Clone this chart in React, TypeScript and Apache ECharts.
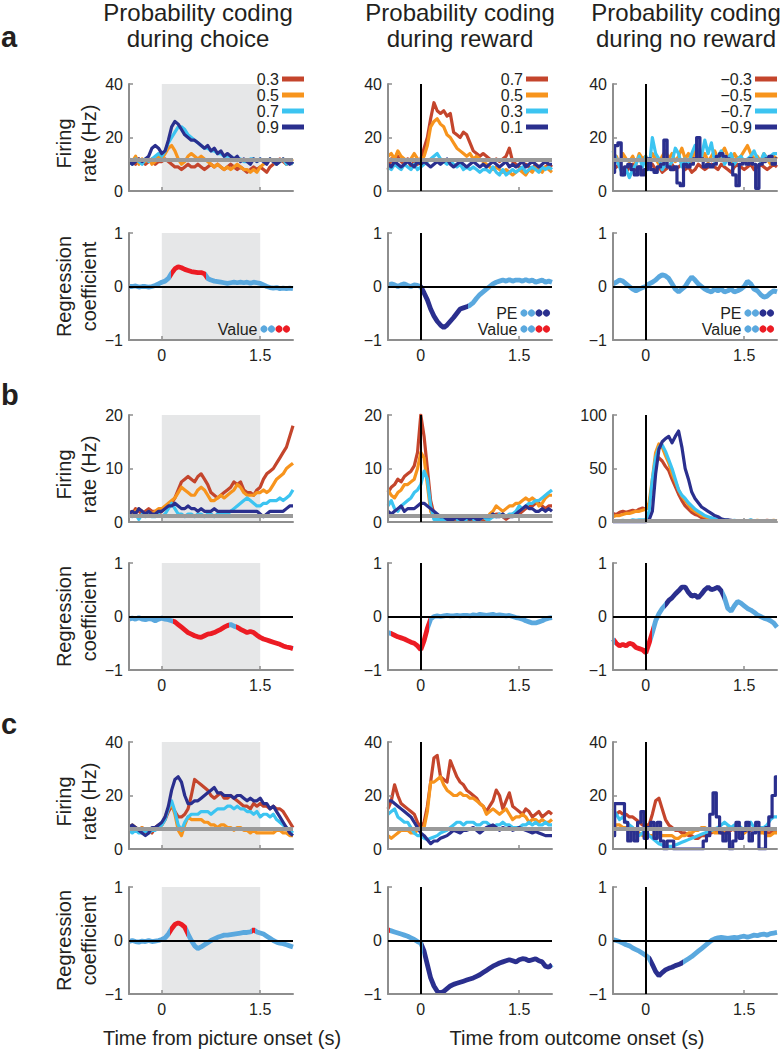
import React, { useEffect, useRef } from "react";
import * as echarts from "echarts";

// ---------- time axis (s) ----------
const T = [-0.5,-0.45,-0.4,-0.35,-0.3,-0.25,-0.2,-0.15,-0.1,-0.05,0,0.05,0.1,0.15,0.2,0.25,0.3,0.35,0.4,0.45,0.5,0.55,0.6,0.65,0.7,0.75,0.8,0.85,0.9,0.95,1,1.05,1.1,1.15,1.2,1.25,1.3,1.35,1.4,1.45,1.5,1.55,1.6,1.65,1.7,1.75,1.8,1.85,1.9,1.95,2];

// ---------- titles / tick labels ----------
const COL_TITLES = ["Probability coding\nduring choice", "Probability coding\nduring reward", "Probability coding\nduring no reward"];
const ROW_LETTERS = ["a", "b", "c"];
const X_TICKS = [0, 1.5];
const LEG_A = [["0.3", "0.5", "0.7", "0.9"], ["0.7", "0.5", "0.3", "0.1"], ["\u22120.3", "\u22120.5", "\u22120.7", "\u22120.9"]];

// ---------- row a firing rates (Hz) ----------
const A1_red = [12,11,10,12,11,10,11,12,10,11,11,12,11,10,9,9,8,9,10,9,9,10,9,8,9,10,9,10,9,8,9,10,9,8,9,8,7,8,9,8,9,8,7,9,10,11,12,11,10,11,10];
const A1_orange = [12,11,13,10,12,11,12,10,11,13,12,14,16,17,15,12,10,11,13,14,13,12,13,12,11,10,9,10,9,8,9,8,9,10,9,8,8,7,8,7,9,10,11,12,11,10,11,12,10,11,12];
const A1_cyan = [11,10,12,11,10,12,11,12,13,14,13,15,18,20,22,24,24,23,21,20,19,18,17,16,16,15,15,14,14,13,13,13,12,12,12,11,11,12,12,11,12,11,11,12,11,10,11,12,10,11,10];
const A1_navy = [11,10,11,12,11,12,13,16,17,16,14,15,19,24,26,25,23,21,20,19,19,18,17,16,17,15,16,14,15,13,14,13,12,13,11,12,11,10,12,11,12,11,10,12,11,10,11,12,11,10,11];

const A2_red = [8,12,10,13,11,10,12,9,11,10,12,16,20,27,33,30,29,30,28,29,22,21,20,22,21,18,15,14,13,14,13,12,11,12,11,12,13,16,11,10,9,8,10,9,8,10,9,8,9,10,9];
const A2_orange = [13,14,12,15,13,12,11,12,14,12,11,13,17,24,26,27,25,24,21,20,18,16,15,14,13,14,12,13,12,11,10,9,8,9,8,7,8,7,6,7,8,7,6,8,7,9,8,7,9,8,7];
const A2_cyan = [9,8,10,9,8,10,9,8,10,8,9,10,11,12,13,14,12,11,10,11,10,9,10,8,9,8,9,8,7,8,8,7,9,7,6,8,6,7,8,7,8,9,7,8,9,8,7,9,8,9,8];
const A2_navy = [10,9,11,10,9,10,11,10,9,11,10,11,10,9,10,11,10,11,12,10,9,10,11,10,9,10,11,10,9,10,9,10,11,10,9,10,11,9,10,9,10,11,9,10,11,10,9,10,11,10,10];

const A3_red = [8,9,10,8,7,9,10,8,9,7,8,9,10,8,9,7,8,9,10,8,9,10,8,9,7,8,10,9,8,9,10,9,8,10,9,8,7,9,10,9,8,9,10,8,9,10,9,8,9,10,9];
const A3_orange = [12,13,10,14,12,11,13,10,14,12,13,11,14,12,10,13,15,12,14,11,13,16,12,14,11,15,13,12,14,11,13,15,12,14,16,13,11,14,12,13,15,17,14,12,13,11,14,12,10,13,12];
const A3_cyan = [15,12,9,6,8,5,8,10,13,9,13,8,20,14,12,8,10,9,11,16,14,9,12,10,14,17,15,13,19,14,18,11,13,15,10,12,14,10,12,13,11,12,13,15,12,11,14,12,13,14,14];
const A3_navy = [7,17,18,6,9,10,8,6,9,6,8,12,8,7,9,10,19,9,8,9,3,2,10,9,10,12,20,12,9,10,9,10,13,14,13,12,10,6,2,10,11,10,12,10,1,10,11,12,13,10,12];

// ---------- row b firing rates (Hz) ----------
const B1_red = [2,1.5,2.5,2,1.5,2,2.5,2,2,1.5,2,2.5,3,3.5,4.5,6,7.5,8,8.5,8,7.5,8.5,9,8,7,5.5,5,4.5,5,5.5,6,6.5,7.5,7,7.5,6,5.5,5.5,5,6,6.5,8,9,9.5,10,11,12,13,14,16,18];
const B1_orange = [2,1.5,2,2.5,2,1.5,2,1.5,2,2.5,2.5,3,3.5,4,4.5,5.5,6.5,6,5.5,5,5,6,6.5,6,5,4,4,4.5,5,4.5,5,5.5,6,7,6.5,5.5,5,5,5,5.5,5.5,6,5.5,6,7,8,8.5,9,10,10.5,11];
const B1_cyan = [1.5,1,1.5,0.5,1.5,1,1.5,1,1,1.5,1,1.5,2.5,3.5,2.5,1.5,1.5,1,1.5,1.5,1,1.5,1.5,1,1.5,1.5,1,1.5,1.5,1.5,1.5,2,2.5,3,3.5,4,4.5,4,3.5,3,3,3.5,3.5,4,4,4,4.5,4,4.5,5,6];
const B1_navy = [1.5,2,1.5,2.5,2,1.5,2,1.5,1.5,2,2,2.5,3,3,3.5,3,2.5,2.5,3,2.5,2.5,2,2.5,2,2,2,2.5,2,2,2,2,2,2,2,2,2,2,2,2,2,1.5,1,1.5,2,2,2,2,2,2.5,3,3];

const B2_red = [5.5,6.5,7,8,7.5,8.5,9,9.5,10.5,13,20,16,10,4,1.5,1,0.5,0.5,1,0.5,0.5,0.5,1,0.5,0.5,0.5,0.5,1,0.5,0.5,0.5,1,1,1.5,1.5,1,0.5,1,1.5,1.5,1.5,2,2.5,3,3,3.5,3.5,3,2.5,3,3];
const B2_orange = [6,5,4.5,5.5,6,7,7,7.5,8,10,13,12,7,2,1,0.5,0.5,1,0.5,1,0.5,1,0.5,1,1,0.5,1,1,0.5,1,0.5,1.5,2,3,2.5,2,2.5,3,3,3.5,3.5,4,4.5,4,4.5,4,3,3.5,4.5,5,5];
const B2_cyan = [3,4,2.5,2,3,3.5,4,4.5,5.5,6,7,9.5,8,3,0.5,0.5,0.5,0.5,0.5,0.5,1,0.5,0.5,0.5,0.5,1,0.5,0.5,0.5,1,0.5,0.5,1,1,1.5,1,1,1.5,1.5,2,3,2.5,3,3.5,3.5,4,4,4.5,5,5.5,6];
const B2_navy = [2,1.5,2,2.5,3,2,2.5,2.5,2.5,3,3.5,3.5,3,2.5,2,1.5,1,1,0.5,0.5,0.5,1,0.5,0.5,1,0.5,1,0.5,0.5,1,1,1,1.5,1,1,1.5,1,1,1,1.5,2,2.5,3,2.5,2.5,2,2,2.5,2,2.5,2];

const B3_red = [8,7,9,10,9,10,11,10,12,13,12,15,35,55,60,57,52,48,40,33,26,20,15,12,9,7,6,4,3,2,1.5,1,1,1,1.5,1,1,1,1,1,1,1,1.5,1,1,1,1,1.5,1,1,1];
const B3_orange = [5,6,6,7,8,8,9,10,10,11,12,18,40,65,73,70,62,55,45,38,30,24,20,16,12,10,8,6,5,4,3,2,1.5,1,1,1.5,1,1,1,1,1,1,1,1,1.5,1,1,1,1,1.5,1];
const B3_cyan = [1,1,1,1.5,1,1,2,1.5,2,2,2,10,40,60,70,72,66,58,50,40,30,25,22,18,15,12,10,8,6,5,4,3,2,2,2,1.5,1,1.5,1,1,1,1,2,1,1,1,1,1,1,1,1];
const B3_navy = [0,0,0,0,0,0,0,0,0,0,0,2,10,45,68,75,78,80,74,80,85,70,50,40,28,22,18,14,12,10,8,6,5,3,2,2,1.5,1,1,1,1,1,1,0.5,1,0.5,1,0.5,1,1,1];

// ---------- row c firing rates (Hz) ----------
const C1_red = [8,7,8,7,8,6,7,6,8,9,9,11,14,16,14,12,12,13,15,20,26,25,24,23,22,20,19,20,21,19,19,20,19,18,17,16,16,15,17,16,17,16,16,15,16,15,15,14,12,10,8];
const C1_orange = [8,9,8,7,8,6,7,7,8,8,9,12,15,17,13,7,5,9,12,11,11,11,11,10,10,9,9,8,9,9,8,8,7,8,8,7,7,6,7,6,6,6,6,6,6,7,7,6,6,5,5];
const C1_cyan = [7,6,7,6,6,7,6,7,7,8,9,11,15,18,14,9,7,10,12,13,13,13,14,14,14,13,14,15,15,15,16,16,15,16,15,15,14,14,13,14,12,13,13,12,13,11,10,9,8,7,6];
const C1_navy = [8,9,8,7,6,5,6,8,8,9,10,12,16,22,26,27,25,20,17,17,18,18,19,20,21,22,23,21,21,20,20,20,19,20,20,19,18,19,18,18,19,17,17,15,16,14,12,10,8,6,5];

const C2_red = [15,18,24,20,17,16,15,14,13,10,8,10,16,25,34,35,27,26,25,33,30,27,25,24,22,21,20,19,17,16,14,16,18,22,20,15,18,21,16,15,14,13,15,14,12,13,14,12,13,14,13];
const C2_orange = [5,4,5,6,7,7,7,6,6,7,8,8,14,25,25,26,27,24,22,21,20,20,21,20,20,19,19,18,17,16,13,14,15,14,13,14,15,13,11,12,12,13,12,10,11,11,10,11,10,10,11];
const C2_cyan = [13,14,15,12,11,10,10,8,6,5,5,4,3.5,4,4.5,5,6,6.5,7,8,9,10,10,9,10,10,10,9,9,10,10,9,8,9,9,10,9,9,8,8,8,9,9,10,9,10,9,9,10,9,9];
const C2_navy = [18,18,17,16,15,14,13,12,10,8,6,5,3.5,2,3,3,4,4.5,5,6,7,6.5,6,7,7,7.5,8,7,6,7,8,8.5,9,8,7,8,7.5,8,7,7.5,8,7.5,7,6.5,6,6.5,6,5.5,5,5,5];

const C3_red = [12,13,14,13,13,12,12,11,10,9,9,9,13,18,19,15,11,9,8,7,7,6,6,5,5,4,4,5,5,6,6,7,7,6,6,7,7,8,8,7,6,7,7,8,8,7,7,6,6,7,7];
const C3_orange = [8,9,9,8,8,7,7,6,6,5,5,5,5,6,6,5,5,5,5,4,4,5,5,6,6,7,7,8,8,7,7,6,6,7,7,8,8,7,7,6,6,7,7,8,8,6,6,5,5,6,6];
const C3_cyan = [15,13,11,12,10,9,8,6,5,6,7,5,4,3,2,1.5,1,1,1,1.5,2,2.5,3,3.5,4,4.5,5,5.5,6,6.5,7,7.5,8,9,10,9,8,9,9,8,7,9,10,8,7,8,8,9,11,12,12];
const C3_navy = [5,17,17,17,10,3,7,3,10,14,4,8,10,4,10,3,0,3,3,0,0,0,0,0,0,0,0,0,3,5,13,21,12,6,3,6,0,3,10,4,7,10,3,6,10,0,0,8,12,20,27];

// ---------- baselines (Hz) and axis maxima ----------
const BASE = [[11.5, 11.5, 11.5], [1.2, 1.2, 1], [7.5, 7.5, 7.5]];
const Y_MAX = [[40, 40, 40], [20, 20, 100], [40, 40, 40]];

// ---------- regression coefficients ----------
const A1_reg = [0,0,0.01,-0.01,0,0,-0.01,0,0.02,0.05,0.08,0.1,0.15,0.25,0.33,0.37,0.35,0.32,0.3,0.28,0.27,0.26,0.26,0.24,0.15,0.12,0.1,0.09,0.08,0.07,0.06,0.07,0.08,0.07,0.08,0.07,0.08,0.06,0.08,0.07,0.06,0.03,0,-0.02,-0.03,-0.02,-0.04,-0.03,-0.04,-0.03,-0.04];
const A2_reg = [0.02,0.05,0.03,0,0.03,0.05,0.02,0,0.03,0.02,0,-0.12,-0.25,-0.42,-0.55,-0.65,-0.72,-0.77,-0.72,-0.65,-0.58,-0.5,-0.42,-0.4,-0.38,-0.35,-0.3,-0.22,-0.15,-0.1,-0.05,0,0.05,0.08,0.1,0.12,0.1,0.13,0.1,0.12,0.12,0.1,0.13,0.1,0.12,0.08,0.1,0.12,0.08,0.1,0.08];
const A3_reg = [0.05,0.08,0.12,0.1,0.05,0,-0.05,-0.08,-0.05,-0.02,0,0.05,0.08,0.12,0.18,0.22,0.2,0.15,0.05,-0.05,-0.1,-0.05,0,0.1,0.18,0.12,0.05,0,-0.05,-0.08,-0.1,-0.05,-0.08,-0.05,-0.1,-0.08,-0.05,-0.1,-0.08,-0.05,0,0.1,0.05,-0.05,-0.08,-0.15,-0.2,-0.18,-0.12,-0.08,-0.1];
const B1_reg = [-0.05,-0.03,-0.05,-0.02,-0.05,-0.06,-0.04,-0.05,-0.08,-0.05,-0.03,-0.05,-0.06,-0.08,-0.1,-0.15,-0.2,-0.25,-0.3,-0.33,-0.36,-0.38,-0.39,-0.36,-0.33,-0.32,-0.3,-0.27,-0.24,-0.2,-0.17,-0.15,-0.18,-0.2,-0.24,-0.27,-0.3,-0.28,-0.3,-0.35,-0.39,-0.42,-0.44,-0.46,-0.48,-0.5,-0.52,-0.55,-0.57,-0.58,-0.6];
const B2_reg = [-0.3,-0.32,-0.35,-0.38,-0.4,-0.42,-0.45,-0.48,-0.5,-0.55,-0.62,-0.45,-0.22,-0.05,0,0.01,0,0.01,0.02,0.01,0.01,0.02,0.01,0.02,0.02,0.01,0.03,0.02,0.04,0.03,0.02,0.03,0.04,0.02,0.03,0.02,0.01,0.02,0,-0.02,-0.03,-0.05,-0.08,-0.1,-0.12,-0.12,-0.1,-0.08,-0.05,-0.03,-0.02];
const B3_reg = [-0.42,-0.5,-0.55,-0.52,-0.55,-0.5,-0.52,-0.58,-0.6,-0.62,-0.68,-0.5,-0.3,-0.08,0.05,0.15,0.22,0.3,0.35,0.42,0.48,0.55,0.55,0.45,0.38,0.4,0.35,0.42,0.5,0.55,0.5,0.52,0.55,0.48,0.35,0.15,0.1,0.2,0.28,0.25,0.2,0.15,0.12,0.08,0.03,0,-0.03,-0.05,-0.08,-0.12,-0.2];
const C1_reg = [-0.02,0,-0.02,-0.03,-0.01,-0.02,0,-0.02,-0.01,0,0.02,0.05,0.12,0.22,0.3,0.33,0.3,0.25,0.12,0,-0.1,-0.15,-0.12,-0.08,-0.04,0,0.03,0.06,0.08,0.1,0.1,0.11,0.12,0.13,0.14,0.15,0.15,0.16,0.2,0.16,0.14,0.12,0.08,0.04,0,-0.03,-0.05,-0.06,-0.08,-0.1,-0.12];
const C2_reg = [0.2,0.18,0.16,0.14,0.12,0.1,0.08,0.05,0.02,-0.02,-0.05,-0.2,-0.45,-0.7,-0.85,-0.95,-0.98,-0.95,-0.9,-0.85,-0.82,-0.8,-0.78,-0.76,-0.74,-0.72,-0.7,-0.67,-0.64,-0.6,-0.56,-0.52,-0.48,-0.45,-0.42,-0.4,-0.38,-0.36,-0.38,-0.4,-0.36,-0.34,-0.35,-0.38,-0.36,-0.34,-0.38,-0.4,-0.48,-0.5,-0.45];
const C3_reg = [0.02,0,-0.02,-0.05,-0.08,-0.1,-0.14,-0.17,-0.2,-0.24,-0.28,-0.33,-0.45,-0.58,-0.66,-0.6,-0.55,-0.52,-0.5,-0.47,-0.45,-0.42,-0.38,-0.34,-0.3,-0.25,-0.2,-0.15,-0.1,-0.05,0,0.03,0.05,0.06,0.05,0.04,0.05,0.06,0.05,0.07,0.08,0.06,0.08,0.1,0.09,0.11,0.12,0.1,0.13,0.14,0.15];

// significant windows: [from, to, kind] kind: "v" = value (red), "p" = PE (navy)
const A1_sig = [[0.14, 0.67, "v"]];
const A2_sig = [[0.01, 0.72, "p"]];
const A3_sig = [];
const B1_sig = [[0.17, 1.03, "v"], [1.13, 2.0, "v"]];
const B2_sig = [[-0.46, 0.12, "v"]];
const B3_sig = [[-0.47, 0.09, "v"], [0.29, 1.17, "p"]];
const C1_sig = [[0.12, 0.38, "v"], [1.38, 1.42, "v"]];
const C2_sig = [[-0.5, -0.47, "v"], [0.03, 2.0, "p"]];
const C3_sig = [[0.06, 0.56, "p"]];

const FIRING = [
  [[A1_red, A1_orange, A1_cyan, A1_navy], [A2_red, A2_orange, A2_cyan, A2_navy], [A3_red, A3_orange, A3_cyan, A3_navy]],
  [[B1_red, B1_orange, B1_cyan, B1_navy], [B2_red, B2_orange, B2_cyan, B2_navy], [B3_red, B3_orange, B3_cyan, B3_navy]],
  [[C1_red, C1_orange, C1_cyan, C1_navy], [C2_red, C2_orange, C2_cyan, C2_navy], [C3_red, C3_orange, C3_cyan, C3_navy]],
];
const REG = [[A1_reg, A2_reg, A3_reg], [B1_reg, B2_reg, B3_reg], [C1_reg, C2_reg, C3_reg]];
const SIG = [[A1_sig, A2_sig, A3_sig], [B1_sig, B2_sig, B3_sig], [C1_sig, C2_sig, C3_sig]];

// ---------- style ----------
const FONT = "'Liberation Sans', Arial, Helvetica, sans-serif";
const TXT = "#231f20";
const AX = "#8e8e8e";
const C_RED = "#c4452c";
const C_ORANGE = "#f7941d";
const C_CYAN = "#3cc4f1";
const C_NAVY = "#2a2f8e";
const FIRE_COLORS = [C_RED, C_ORANGE, C_CYAN, C_NAVY];
const R_LB = "#5aa8de";
const R_RED = "#ec1c24";
const R_NAVY = "#2a2f8e";
const SHADE = "#e6e7e8";

const COL_X = [129, 388, 613];
const PW = 164;
const FIRE_TOP = [84, 415, 742];
const REG_TOP = [233, 563, 887];
const PH = 107;

function minus(v: number) {
  return String(v).replace("-", "\u2212");
}

function buildOption() {
  const grid: any[] = [];
  const xAxis: any[] = [];
  const yAxis: any[] = [];
  const series: any[] = [];
  const visualMap: any[] = [];
  const graphic: any[] = [];

  const addPanel = (left: number, top: number, yMin: number, yMax: number, yInt: number, showX: boolean) => {
    const idx = grid.length;
    grid.push({ left, top, width: PW, height: PH, containLabel: false, outerBoundsMode: "none" });
    xAxis.push({
      gridIndex: idx, type: "value", min: -0.5, max: 2, z: 4,
      axisLine: { show: true, onZero: false, lineStyle: { color: AX, width: 2 } },
      axisTick: { show: true, inside: true, length: 4, customValues: X_TICKS, lineStyle: { color: AX, width: 1.5 } },
      axisLabel: { show: showX, customValues: X_TICKS, color: TXT, fontSize: 16, fontFamily: FONT, margin: 7, formatter: (v: number) => minus(v) },
      splitLine: { show: false },
    });
    yAxis.push({
      gridIndex: idx, type: "value", min: yMin, max: yMax, interval: yInt, z: 4,
      axisLine: { show: true, onZero: false, lineStyle: { color: AX, width: 2 } },
      axisTick: { show: true, inside: true, length: 4, lineStyle: { color: AX, width: 1.5 } },
      axisLabel: { color: TXT, fontSize: 16, fontFamily: FONT, margin: 6, formatter: (v: number) => minus(v) },
      splitLine: { show: false },
    });
    return idx;
  };

  const shade = (g: number) => series.push({
    type: "line", xAxisIndex: g, yAxisIndex: g, data: [], silent: true, z: 1,
    markArea: { silent: true, itemStyle: { color: SHADE }, data: [[{ xAxis: 0 }, { xAxis: 1.5 }]] },
  });
  const vline = (g: number, z: number) => series.push({
    type: "line", xAxisIndex: g, yAxisIndex: g, data: [], silent: true, z,
    markLine: { silent: true, symbol: "none", animation: false, label: { show: false }, lineStyle: { color: "#000", width: 2, type: "solid" }, data: [{ xAxis: 0 }] },
  });
  const hline = (g: number, y: number, color: string, width: number, z: number) => series.push({
    type: "line", xAxisIndex: g, yAxisIndex: g, data: [], silent: true, z,
    markLine: { silent: true, symbol: "none", animation: false, label: { show: false }, lineStyle: { color, width, type: "solid" }, data: [{ yAxis: y }] },
  });

  for (let r = 0; r < 3; r++) {
    for (let c = 0; c < 3; c++) {
      // firing panel
      const ymax = Y_MAX[r][c];
      const g = addPanel(COL_X[c], FIRE_TOP[r], 0, ymax, ymax / 2, false);
      if (c === 0) shade(g);
      FIRING[r][c].forEach((vals, k) => {
        const stepped = k === 3 && c === 2 && r !== 1;
        series.push({
          type: "line", xAxisIndex: g, yAxisIndex: g, silent: true, z: 2,
          data: T.map((t, i) => [t, vals[i]]),
          symbol: "none", showSymbol: false,
          step: stepped ? "middle" : false,
          color: FIRE_COLORS[k],
          lineStyle: { color: FIRE_COLORS[k], width: 3.2, join: "round" },
        });
      });
      hline(g, BASE[r][c], "#9a9a9a", 4, 3);
      if (c > 0) vline(g, 3);

      // regression panel
      const h = addPanel(COL_X[c], REG_TOP[r], -1, 1, 1, true);
      if (c === 0) shade(h);
      hline(h, 0, "#000", 2, 1.5);
      if (c > 0) vline(h, 1.5);
      const vals = REG[r][c];
      const sIdx = series.length;
      series.push({
        type: "line", xAxisIndex: h, yAxisIndex: h, silent: true, z: 2,
        data: T.map((t, i) => [t, vals[i]]),
        symbol: "none", showSymbol: false,
        color: R_LB,
        lineStyle: { width: 4.8 },
      });
      const sig = SIG[r][c];
      if (sig.length) {
        visualMap.push({
          type: "piecewise", show: false, seriesIndex: sIdx, dimension: 0,
          pieces: sig.map((s: any) => ({ gte: s[0], lte: s[1], color: s[2] === "v" ? R_RED : R_NAVY })),
          outOfRange: { color: R_LB },
        });
      }
    }
  }

  const txt = (text: string, x: number, y: number, size: number, align: string, opts: any = {}) => ({
    type: "text", x, y, silent: true, rotation: opts.rotation || 0, z: 10,
    style: {
      text, fill: TXT, font: `${opts.bold ? "bold " : ""}${size}px ${FONT}`,
      fontSize: size, fontFamily: FONT, fontWeight: opts.bold ? "bold" : "normal",
      textAlign: align, align, textVerticalAlign: "middle", verticalAlign: "middle",
      lineHeight: opts.lineHeight || size * 1.2,
    },
  });

  // column headers
  const headX = [198, 460, 686];
  COL_TITLES.forEach((t, c) => graphic.push(txt(t, headX[c], 25, 24, "center", { lineHeight: 26 })));
  // row letters
  ROW_LETTERS.forEach((l, r) => graphic.push(txt(l, 1, [37, 395, 724][r], 29, "left", { bold: true })));
  // y titles
  for (let r = 0; r < 3; r++) {
    graphic.push(txt("Firing\nrate (Hz)", 76, FIRE_TOP[r] + PH / 2 + 6, 20, "center", { rotation: Math.PI / 2, lineHeight: 25 }));
    graphic.push(txt("Regression\ncoefficient", 76, REG_TOP[r] + PH / 2, 20, "center", { rotation: Math.PI / 2, lineHeight: 25 }));
  }
  // x titles
  graphic.push(txt("Time from picture onset (s)", 222, 1038, 20, "center"));
  graphic.push(txt("Time from outcome onset (s)", 577, 1038, 20, "center"));

  // legends of row a firing panels
  const barX = [282, 526, 755];
  LEG_A.forEach((labels, c) => {
    labels.forEach((lab, k) => {
      const y = FIRE_TOP[0] - 5 + 16 * k;
      graphic.push({ type: "rect", silent: true, z: 10, shape: { x: barX[c], y: y - 2.5, width: 22, height: 5 }, style: { fill: FIRE_COLORS[k] } });
      graphic.push(txt(lab, barX[c] - 3, y, 16, "right"));
    });
  });

  // legends of row a regression panels
  const dotEnd = [290, 550, 774];
  const dotRow = (c: number, y: number, label: string, sigColor: string) => {
    const cols = [R_LB, R_LB, sigColor, sigColor];
    cols.forEach((col, k) => {
      graphic.push({ type: "circle", silent: true, z: 10, shape: { cx: dotEnd[c] - 3.5 - (3 - k) * 7.5, cy: y, r: 3.6 }, style: { fill: col } });
    });
    graphic.push(txt(label, dotEnd[c] - 3 * 7.5 - 10, y, 16, "right"));
  };
  dotRow(0, 329, "Value", R_RED);
  dotRow(1, 313, "PE", R_NAVY);
  dotRow(1, 329, "Value", R_RED);
  dotRow(2, 313, "PE", R_NAVY);
  dotRow(2, 329, "Value", R_RED);

  return {
    animation: false,
    backgroundColor: "#ffffff",
    textStyle: { fontFamily: FONT },
    grid, xAxis, yAxis, series, visualMap, graphic,
  };
}

export default function App() {
  const ref = useRef<HTMLDivElement>(null);
  useEffect(() => {
    const chart = echarts.init(ref.current as HTMLDivElement, null, { renderer: "svg" });
    chart.setOption(buildOption() as any);
    return () => chart.dispose();
  }, []);
  return <div ref={ref} style={{ position: "absolute", left: 0, top: 0, width: 783, height: 1050, background: "#fff" }} />;
}
